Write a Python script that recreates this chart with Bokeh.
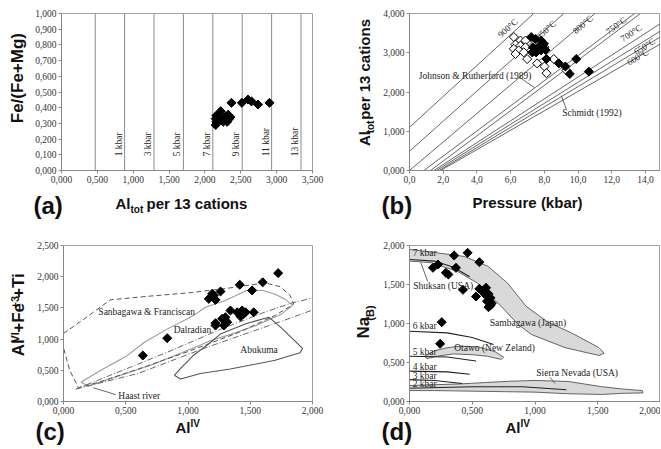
import math
from bokeh.plotting import figure
from bokeh.layouts import column, row
from bokeh.models import Label, Range1d, FixedTicker, CustomJSTickFormatter
from bokeh.core.properties import value
from bokeh.embed import file_html
from bokeh.resources import INLINE

# ---------------- data ----------------
a_line_x = [0.47, 0.88, 1.29, 1.70, 2.11, 2.52, 2.93, 3.34]
a_line_labels = ["", "1 kbar", "3 kbar", "5 kbar", "7 kbar", "9 kbar", "11 kbar", "13 kbar"]
a_x = [2.37, 2.515, 2.60, 2.65, 2.74, 2.90, 2.22, 2.16, 2.15, 2.16, 2.15, 2.22, 2.255,
       2.29, 2.325, 2.34, 2.31, 2.265, 2.355]
a_y = [0.431, 0.431, 0.452, 0.44, 0.42, 0.431, 0.378, 0.35, 0.33, 0.31, 0.29, 0.32, 0.31,
       0.345, 0.355, 0.33, 0.31, 0.335, 0.34]

b_names = ["900°C", "850°C", "800°C", "750°C", "Johnson & Rutherford (1989)", "700°C", "650°C", "Schmidt (1992)", "600°C"]
b_x0 = [0.0, 0.0, 0.0, 0.85, 1.25, 1.45, 1.60, 1.75, 1.85]
b_y0 = [1.10, 0.49, 0.0, 0.0, 0.0, 0.0, 0.0, 0.0, 0.0]
b_x1 = [7.37, 9.15, 11.0, 13.35, 13.70, 14.87, 14.87, 14.87, 14.87]
b_y1 = [4.0, 4.0, 4.0, 4.0, 4.0, 3.74, 3.55, 3.40, 3.22]
b_temp_labels = ["900°C", "850°C", "800°C", "750°C", "700°C", "650°C", "600°C"]
b_temp_lx = [5.83, 8.10, 10.28, 12.26, 13.15, 13.94, 13.54]
b_temp_ly = [3.63, 3.58, 3.72, 3.69, 3.50, 3.16, 2.89]
b_fill_x = [7.22, 7.47, 7.81, 7.97, 7.32, 7.61, 7.28, 7.51, 7.81, 8.07, 7.71,
            8.13, 8.86, 9.25, 9.89, 9.51, 10.64]
b_fill_y = [3.40, 3.35, 3.31, 3.23, 3.14, 3.07, 3.01, 3.01, 3.06, 3.07, 3.18,
            2.84, 2.73, 2.65, 2.84, 2.46, 2.52]
b_open_x = [6.19, 6.58, 6.88, 6.29, 6.58, 6.88, 6.19, 6.48, 6.29, 6.78, 6.98, 7.57,
            8.01, 8.13, 8.56, 9.31, 8.00]
b_open_y = [3.40, 3.31, 3.31, 3.21, 3.18, 3.14, 3.10, 3.06, 2.97, 3.01, 2.84, 2.73,
            2.65, 2.48, 2.84, 2.55, 3.14]

c_x = [0.637, 0.833, 1.724, 1.60, 1.416, 1.515, 1.261, 1.194, 1.167, 1.221, 1.207,
       1.341, 1.395, 1.435, 1.448, 1.422, 1.462, 1.528, 1.274, 1.30, 1.315, 1.221, 1.288, 1.221, 1.30]
c_y = [0.737, 1.015, 2.057, 1.91, 1.87, 1.78, 1.763, 1.726, 1.645, 1.629, 1.70,
       1.458, 1.43, 1.458, 1.405, 1.362, 1.43, 1.43, 1.325, 1.298, 1.271, 1.218, 1.218, 1.255, 1.35]
c_sf_x = [0.0, 0.15, 0.30, 0.38, 0.70, 1.00, 1.30, 1.62, 1.74, 1.82, 1.85, 1.70, 1.40, 1.00, 0.60, 0.30, 0.12, 0.05, 0.0]
c_sf_y = [1.09, 1.30, 1.52, 1.63, 1.69, 1.74, 1.81, 1.90, 1.84, 1.70, 1.56, 1.38, 1.10, 0.80, 0.52, 0.32, 0.22, 0.50, 0.86]
c_dal_x = [0.14, 0.30, 0.50, 0.65, 0.85, 1.00, 1.06, 1.14, 1.30, 1.47, 1.60, 1.70, 1.78, 1.84, 1.75, 1.55, 1.35, 1.19, 1.00, 0.70, 0.40, 0.20, 0.14]
c_dal_y = [0.31, 0.50, 0.72, 0.95, 1.18, 1.33, 1.40, 1.51, 1.62, 1.78, 1.78, 1.72, 1.64, 1.54, 1.40, 1.22, 1.08, 0.98, 0.82, 0.58, 0.38, 0.25, 0.31]
c_abu_x = [0.89, 0.95, 1.05, 1.17, 1.26, 1.47, 1.65, 1.68, 1.75, 1.92, 1.90, 1.70, 1.34, 1.10, 0.94, 0.89]
c_abu_y = [0.42, 0.55, 0.75, 0.93, 1.08, 1.25, 1.35, 1.30, 1.18, 0.85, 0.78, 0.66, 0.52, 0.45, 0.36, 0.42]
c_hr1_x = [0.10, 0.50, 0.87, 1.27, 1.60, 1.82, 2.02]
c_hr1_y = [0.20, 0.52, 0.82, 1.165, 1.42, 1.57, 1.67]
c_hr2_x = [0.10, 0.60, 1.14, 1.54, 1.80, 2.02]
c_hr2_y = [0.20, 0.45, 0.86, 1.14, 1.32, 1.48]

d_x = [0.356, 0.463, 0.557, 0.187, 0.227, 0.37, 0.29, 0.31, 0.426, 0.53, 0.557, 0.584, 0.61,
       0.597, 0.629, 0.645, 0.618, 0.645, 0.629, 0.656, 0.257, 0.244]
d_y = [1.872, 1.906, 1.786, 1.714, 1.756, 1.714, 1.65, 1.628, 1.432, 1.346, 1.445, 1.423, 1.458,
       1.38, 1.38, 1.33, 1.286, 1.23, 1.21, 1.26, 1.017, 0.74]
d_sam_x = [0.0, 0.20, 0.436, 0.624, 0.78, 0.93, 1.10, 1.29, 1.51, 1.55, 1.51, 1.24, 0.97, 0.865, 0.73, 0.54, 0.38, 0.17, 0.0]
d_sam_y = [1.95, 1.91, 1.86, 1.735, 1.52, 1.22, 1.02, 0.88, 0.69, 0.62, 0.59, 0.69, 0.86, 0.99, 1.22, 1.52, 1.67, 1.78, 1.80]
d_ota_x = [0.12, 0.20, 0.30, 0.41, 0.55, 0.68, 0.75, 0.73, 0.62, 0.50, 0.35, 0.22, 0.14, 0.12]
d_ota_y = [0.58, 0.65, 0.69, 0.71, 0.70, 0.64, 0.57, 0.54, 0.58, 0.60, 0.61, 0.58, 0.55, 0.58]
d_sn_x = [0.0, 0.40, 0.80, 1.00, 1.27, 1.53, 1.70, 1.855, 1.86, 1.70, 1.53, 1.25, 1.00, 0.60, 0.20, 0.0]
d_sn_y = [0.205, 0.225, 0.26, 0.27, 0.256, 0.19, 0.16, 0.14, 0.11, 0.105, 0.09, 0.10, 0.12, 0.13, 0.14, 0.14]
d_kbar_labels = ["7 kbar", "6 kbar", "5 kbar", "4 kbar", "3 kbar", "2 kbar"]
d_kbar_x = [[0, 0.20, 0.35, 0.48], [0, 0.30, 0.50, 0.67], [0, 0.30, 0.53], [0, 0.30, 0.48], [0, 0.20, 0.42], [0, 0.50, 0.90, 1.25]]
d_kbar_y = [[1.82, 1.80, 1.72, 1.60], [0.90, 0.88, 0.82, 0.73], [0.58, 0.57, 0.52], [0.39, 0.38, 0.35], [0.28, 0.27, 0.23], [0.17, 0.19, 0.19, 0.15]]
d_kbar_ly = [1.90, 0.965, 0.63, 0.44, 0.33, 0.23]

SERIF = "Liberation Serif"
SANS = "Liberation Sans"
R90 = math.pi / 2


def fmt(dec):
    return CustomJSTickFormatter(code="return tick.toFixed(%d).replace('.', ',');" % dec)


def make_fig(w, h, bl, br, bt, bb, xr, yr, xt, yt, xd, yd):
    p = figure(width=w, height=h, x_range=Range1d(*xr), y_range=Range1d(*yr),
               output_backend="svg", toolbar_location=None, title=None,
               min_border_left=bl, min_border_right=br, min_border_top=bt, min_border_bottom=bb)
    p.xgrid.visible = False
    p.ygrid.visible = False
    p.outline_line_color = "#a0a0a0"
    for ax, ticks, d in ((p.xaxis[0], xt, xd), (p.yaxis[0], yt, yd)):
        ax.ticker = FixedTicker(ticks=ticks)
        ax.formatter = fmt(d)
        ax.major_label_text_font = SERIF
        ax.major_label_text_font_size = "9.5px"
        ax.major_label_text_color = "#333333"
        ax.axis_line_color = "#888888"
        ax.major_tick_line_color = "#888888"
        ax.major_tick_out = 3
        ax.major_tick_in = 0
        ax.minor_tick_line_color = None
        ax.major_label_standoff = 2
    return p


def strip(w, h):
    s = figure(width=w, height=h, x_range=Range1d(0, w), y_range=Range1d(0, h),
               output_backend="svg", toolbar_location=None, min_border=0, title=None,
               x_axis_location=None, y_axis_location=None)
    s.xgrid.visible = False
    s.ygrid.visible = False
    s.outline_line_color = None
    return s


def stext(s, x, y, t, size, rotated=False):
    # (x, y): baseline start of the text in strip pixels; the glyph is drawn
    # centred on its em box, so shift the anchor from baseline to box centre.
    shift = 0.35 * size
    if rotated:
        ax, ay, ang = x - shift, y, R90
    else:
        ax, ay, ang = x, y + shift, 0.0
    s.text(x=[ax], y=[ay], text=[t], angle=ang, text_align="left", text_baseline="middle",
           text_font=value(SANS), text_font_size="%spx" % size, text_font_style="bold",
           text_color="#111111")


def dlabel(p, x, y, t, size="9.5px", angle=0.0, align="left"):
    p.add_layout(Label(x=x, y=y, text=t, angle=angle, text_align=align, text_baseline="middle",
                       text_font=SERIF, text_font_size=size, text_color="#222222"))


def diamonds(p, xs, ys, fill="black"):
    p.scatter(xs, ys, marker="square", angle=math.pi / 4, size=6.4,
              fill_color=fill, line_color="black", line_width=1)


# ---------------- panel (a) ----------------
pa = make_fig(300, 186, 31, 18, 13, 16, (0, 3.5), (0, 1.0),
              [i * 0.5 for i in range(8)], [i * 0.1 for i in range(11)], 3, 3)
for xv in a_line_x:
    pa.line([xv, xv], [0, 1.0], line_color="#8c8c8c", line_width=1)
pa.text(x=a_line_x, y=[0.09] * len(a_line_x), text=a_line_labels, angle=R90,
        text_align="left", text_baseline="bottom", x_offset=-1,
        text_font=value(SERIF), text_font_size="9.5px", text_color="#222222")
diamonds(pa, a_x, a_y)

# ---------------- panel (b) ----------------
B_XMAX = 14.89
pb = make_fig(283, 186, 32, 0, 13, 16, (0, B_XMAX), (0, 4.0),
              [0, 2, 4, 6, 8, 10, 12, 14], [0, 1, 2, 3, 4], 1, 3)
pb.segment(x0=b_x0, y0=b_y0, x1=b_x1, y1=b_y1, line_color="#555555", line_width=0.9)
sx_b = 251 / B_XMAX
sy_b = 157 / 4.0
name_idx = {n: i for i, n in enumerate(b_names)}
for t, lx, ly in zip(b_temp_labels, b_temp_lx, b_temp_ly):
    i = name_idx[t]
    ang = math.atan2((b_y1[i] - b_y0[i]) * sy_b, (b_x1[i] - b_x0[i]) * sx_b)
    dlabel(pb, lx, ly, t, size="9px", angle=ang, align="center")
dlabel(pb, 0.55, 2.42, "Johnson & Rutherford (1989)")
pb.line([6.52, 7.41], [2.38, 2.11], line_color="#555555", line_width=0.9)
dlabel(pb, 9.06, 1.46, "Schmidt (1992)")
pb.line([9.0, 9.3], [1.91, 1.57], line_color="#555555", line_width=0.9)
diamonds(pb, b_open_x, b_open_y, fill="white")
diamonds(pb, b_fill_x, b_fill_y)

# ---------------- panel (c) ----------------
pc = make_fig(300, 193, 33, 18, 21, 16, (0, 2.0), (0, 2.5),
              [0, 0.5, 1.0, 1.5, 2.0], [0, 0.5, 1.0, 1.5, 2.0, 2.5], 3, 3)
pc.line(c_dal_x, c_dal_y, line_color="#9a9a9a", line_width=1.1)
pc.line(c_abu_x, c_abu_y, line_color="#555555", line_width=1.1)
pc.line(c_sf_x, c_sf_y, line_color="#555555", line_width=1, line_dash="5 3")
pc.line(c_hr1_x, c_hr1_y, line_color="#666666", line_width=1, line_dash="6 2 1 2")
pc.line(c_hr2_x, c_hr2_y, line_color="#666666", line_width=1, line_dash="6 2 1 2")
pc.line([0.42, 0.24], [0.11, 0.22], line_color="#555555", line_width=0.9)
for t, x, y in (("Sanbagawa & Franciscan", 0.28, 1.44), ("Dalradian", 0.885, 1.15),
                ("Abukuma", 1.42, 0.82), ("Haast river", 0.44, 0.085)):
    dlabel(pc, x, y, t)
diamonds(pc, c_x, c_y)

# ---------------- panel (d) ----------------
pd_ = make_fig(283, 193, 32, 0, 21, 16, (0, 2.0), (0, 2.0),
               [0, 0.5, 1.0, 1.5, 2.0], [0, 0.5, 1.0, 1.5, 2.0], 3, 3)
for xs, ys in ((d_sam_x, d_sam_y), (d_ota_x, d_ota_y), (d_sn_x, d_sn_y)):
    pd_.patch(xs, ys, fill_color="#d9d9d9", line_color="#555555", line_width=0.9)
pd_.multi_line(d_kbar_x, d_kbar_y, line_color="#222222", line_width=1.1)
pd_.text(x=[0.025] * len(d_kbar_labels), y=d_kbar_ly, text=d_kbar_labels,
         text_align="left", text_baseline="middle",
         text_font=value(SERIF), text_font_size="9.5px", text_color="#222222")
pd_.line([0.145, 0.09], [1.54, 1.78], line_color="#555555", line_width=0.9)
pd_.line([1.12, 1.16], [0.31, 0.23], line_color="#555555", line_width=0.9)
for t, x, y in (("Shuksan (USA)", 0.03, 1.48), ("Sambagawa (Japan)", 0.64, 1.01),
                ("Otawo (New Zeland)", 0.356, 0.68), ("Sierra Nevada (USA)", 1.01, 0.36)):
    dlabel(pd_, x, y, t)
diamonds(pd_, d_x, d_y)

# ---------------- axis titles (text strips, baseline coordinates) ----------------
yl_a = strip(30, 186)
stext(yl_a, 23, 56, "Fe/(Fe+Mg)", 17, rotated=True)

yl_b = strip(47, 186)
stext(yl_b, 39, 29, "Al", 15, rotated=True)
stext(yl_b, 43, 44, "tot", 10, rotated=True)
stext(yl_b, 39, 60, "per 13 cations", 15, rotated=True)

xl_1 = strip(660, 38)
stext(xl_1, 115, 16, "Al", 15)
stext(xl_1, 130, 12, "tot", 10)
stext(xl_1, 146, 16, "per 13 cations", 15)
stext(xl_1, 472, 17, "Pressure (kbar)", 15)
stext(xl_1, 33, 11, "(a)", 24)
stext(xl_1, 381, 11, "(b)", 24)

yl_c = strip(30, 193)
stext(yl_c, 24, 56, "Al", 17, rotated=True)
stext(yl_c, 18, 73, "VI", 11, rotated=True)
stext(yl_c, 24, 85, "+Fe", 17, rotated=True)
stext(yl_c, 18, 115, "+3", 11, rotated=True)
stext(yl_c, 24, 128, "+Ti", 17, rotated=True)

yl_d = strip(47, 193)
stext(yl_d, 39, 78, "Na", 17, rotated=True)
stext(yl_d, 43, 100, "(B)", 11, rotated=True)

xl_2 = strip(660, 31)
stext(xl_2, 175, 16, "Al", 15)
stext(xl_2, 190, 22, "IV", 10)
stext(xl_2, 505, 16, "Al", 15)
stext(xl_2, 520, 22, "IV", 10)
stext(xl_2, 35, 9, "(c)", 24)
stext(xl_2, 381, 9, "(d)", 24)

layout = column(
    row(yl_a, pa, yl_b, pb),
    xl_1,
    row(yl_c, pc, yl_d, pd_),
    xl_2,
)
open("out.html", "w").write(file_html(layout, INLINE))
